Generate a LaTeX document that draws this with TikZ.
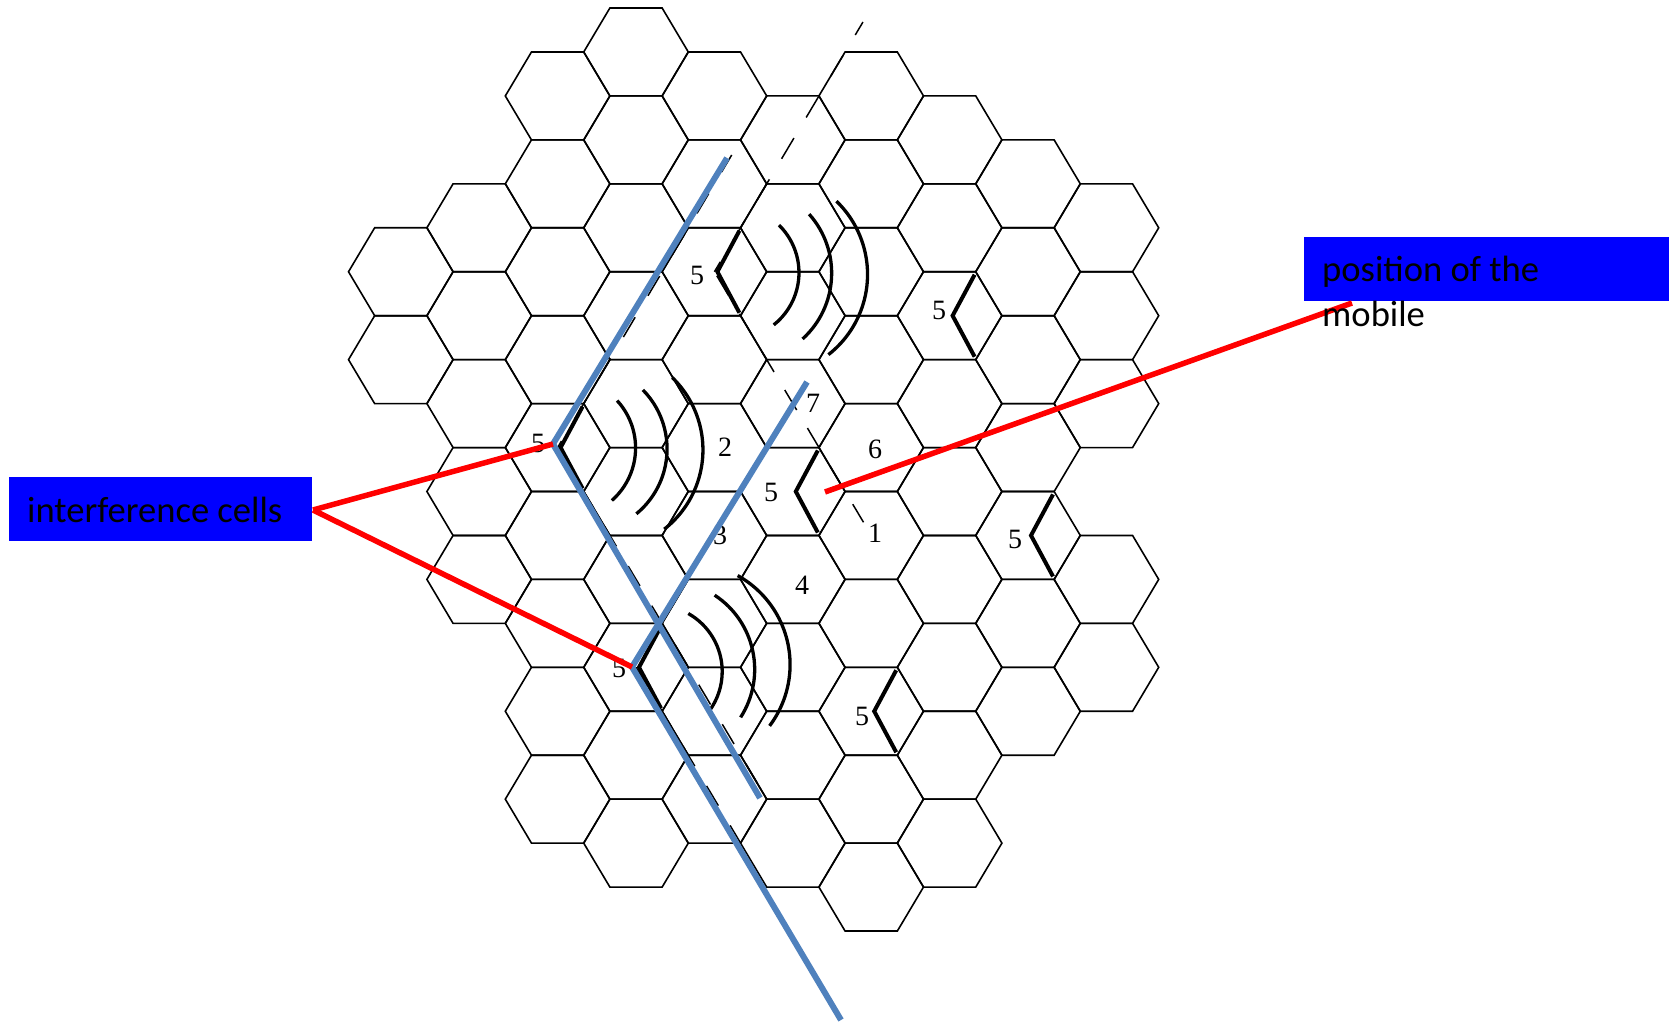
\documentclass[tikz,border=0pt]{standalone}
\usepackage{fontspec}
\setmainfont{Carlito}
\newfontfamily\digitfont{Liberation Serif}
\usetikzlibrary{calc}
\definecolor{boxblue}{RGB}{0,0,255}
\definecolor{lineblue}{RGB}{79,129,189}
\definecolor{linered}{RGB}{255,0,0}
% hexagon of the cell grid: column #1, half-row #2
\newcommand\drawhexcell[2]{%
  \pgfmathsetmacro\hcx{636+78.4*#1}%
  \pgfmathsetmacro\hcy{52+43.95*#2}%
  \draw[hexline] (\hcx+52.3,\hcy) -- (\hcx+26.15,\hcy+43.95) -- (\hcx-26.15,\hcy+43.95)
    -- (\hcx-52.3,\hcy) -- (\hcx-26.15,\hcy-43.95) -- (\hcx+26.15,\hcy-43.95) -- cycle;}
\begin{document}
\begin{tikzpicture}[x=1pt,y=-1pt,
  hexline/.style={line width=1.6pt, line join=miter},
  sectormark/.style={line width=4pt, line join=miter},
  wave/.style={line width=3.3pt},
  guide/.style={line width=1.5pt, dash pattern=on 23pt off 23pt},
  blueline/.style={line width=6pt, draw=lineblue, line join=miter},
  redline/.style={line width=5.5pt, draw=linered},
  labelbox/.style={fill=boxblue, inner sep=0pt, anchor=north west},
  labeltext/.style={anchor=base west, inner sep=0pt, font=\fontsize{36.6}{44}\selectfont},
  cellnum/.style={inner sep=0pt, font=\digitfont\fontsize{28}{32}\selectfont}]

\fill[white] (0,0) rectangle (1669,1024);
\useasboundingbox (0,0) rectangle (1669,1024);

% ---- hexagonal cell grid ----
\foreach \ci/\klist in {-3/{5,7}, -2/{4,6,8,10,12}, -1/{1,3,5,7,9,11,13,15,17},
    0/{0,2,4,6,8,10,12,14,16,18}, 1/{1,3,5,7,9,11,13,15,17},
    2/{2,4,6,8,10,12,14,16,18}, 3/{1,3,5,7,9,11,13,15,17,19},
    4/{2,4,6,8,10,12,14,16,18}, 5/{3,5,7,9,11,13,15}, 6/{4,6,8,12,14}}{
  \foreach \ck in \klist {\drawhexcell{\ci}{\ck}}
}

% ---- antenna sites (cell centres) ----
\coordinate (antA) at (714.4,271.75);
\coordinate (antB) at (557.6,447.55);
\coordinate (antC) at (636,667.3);
\coordinate (mob)  at (792.8,491.5);
\coordinate (antD) at (949.6,315.7);
\coordinate (antE) at (1028,535.45);
\coordinate (antF) at (871.2,711.25);

% ---- dashed sector boundaries ----
\coordinate (dA1) at (862.9,22.1);
\coordinate (dA2) at (863.5,522.3);
\coordinate (dB1) at (731.7,155);
\coordinate (dB2) at (765,796);
\coordinate (dC2) at (740.6,843.1);
\draw[guide, dash pattern=on 24pt off 24pt, dash phase=12.5pt] (antA) -- (dA1);
\draw[guide, dash pattern=on 23.3pt off 21pt, dash phase=39.6pt] (antA) -- (dA2);
\draw[guide, dash pattern=on 23pt off 25pt, dash phase=15.4pt] (antB) -- (dB1);
\draw[guide] (antB) -- (dB2);
\draw[guide] (antC) -- (dC2);

% ---- 120 degree sector antennas ----
\foreach \s in {antA,antB,antC,mob,antD,antE,antF}{
  \draw[sectormark] ($(\s)+(25,-41)$) -- ($(\s)+(3,0)$) -- ($(\s)+(25,41)$);
}

% ---- radiation arcs ----
\begin{scope}[shift={(antA)}, rotate=-3]
  \draw[wave] (18,0) ++(-48.6:66.6) arc[start angle=-48.6, end angle=48.6, radius=66.6];
  \draw[wave] (28.5,0) ++(-44.7:88.8) arc[start angle=-44.7, end angle=44.7, radius=88.8];
  \draw[wave] (51.4,0) ++(-49:101.8) arc[start angle=-49, end angle=49, radius=101.8];
\end{scope}
\begin{scope}[shift={(antB)}, rotate=-3]
  \draw[wave] (8,0) ++(-45.6:70) arc[start angle=-45.6, end angle=45.6, radius=70];
  \draw[wave] (25.5,0) ++(-47.6:84) arc[start angle=-47.6, end angle=47.6, radius=84];
  \draw[wave] (44.8,0) ++(-49:100.6) arc[start angle=-49, end angle=49, radius=100.6];
\end{scope}
\begin{scope}[shift={($(antC)+(2,8)$)}, rotate=12]
  \draw[wave] (18,0) ++(-48.6:66.6) arc[start angle=-48.6, end angle=48.6, radius=66.6];
  \draw[wave] (28.5,0) ++(-44.7:88.8) arc[start angle=-44.7, end angle=44.7, radius=88.8];
  \draw[wave] (51.4,0) ++(-49:101.8) arc[start angle=-49, end angle=49, radius=101.8];
\end{scope}

% ---- cell numbers ----
\node[cellnum] (n5a) at (697,275) {5};
\node[cellnum] (n5b) at (538,443) {5};
\node[cellnum] (n5c) at (619,668) {5};
\node[cellnum] (n5m) at (771,492) {5};
\node[cellnum] (n5d) at (939,310) {5};
\node[cellnum] (n5e) at (1015,539) {5};
\node[cellnum] (n5f) at (862,716.5) {5};
\node[cellnum] (n7) at (813,403) {7};
\node[cellnum] (n2) at (725,447) {2};
\node[cellnum] (n3) at (720,535) {3};
\node[cellnum] (n4) at (802,585) {4};
\node[cellnum] (n6) at (875,449) {6};
\node[cellnum] (n1) at (875,533) {1};

% ---- blue boundary lines ----
\coordinate (bA1) at (727,158);
\coordinate (bA2) at (553,444);
\coordinate (bA3) at (760,798);
\coordinate (bB1) at (807,382);
\coordinate (bB2) at (632,667);
\coordinate (bB3) at (841,1020);
\draw[blueline] (bA1) -- (bA2) -- (bA3);
\draw[blueline] (bB1) -- (bB2) -- (bB3);

% ---- label boxes ----
\node[labelbox, minimum width=303.4pt, minimum height=64pt] (ibox) at (8.3,476.7) {};
\node[labelbox, minimum width=365pt, minimum height=64pt] (pbox) at (1304,237) {};

% ---- red pointers ----
\coordinate (rL) at (313,510);
\coordinate (rM) at (825,492);
\coordinate (rR) at (1352,303);
\draw[redline] (rL) -- (bA2);
\draw[redline] (rL) -- (bB2);
\draw[redline] (rM) -- (rR);

% ---- label texts ----
\node[labeltext] (itext) at (27,522) {interference cells};
\node[labeltext] (ptext) at (1322,281) {position of the};
\node[labeltext] (mtext) at (1322,326) {mobile};
\end{tikzpicture}
\end{document}
